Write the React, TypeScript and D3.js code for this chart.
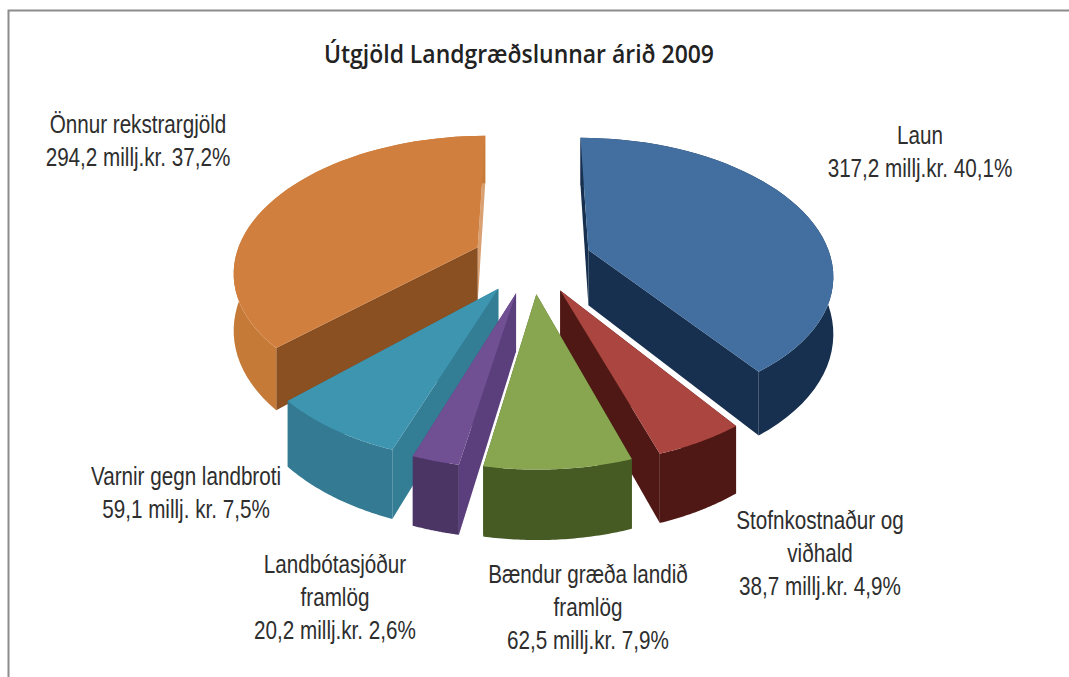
import React from 'react'
import * as d3 from 'd3'

const width = 1069
const height = 677

const categories = ['Laun', 'Stofnkostnaður', 'Bændur', 'Landbótasjóður', 'Varnir', 'Önnur']
const values = [317.2, 38.7, 62.5, 20.2, 59.1, 294.2]

const topColors = ['#426fa0', '#aa453f', '#88a64f', '#704f92', '#3d95b0', '#d17f3e']
const startFaceColors = ['#17304f', '#4f1815', '#465a24', '#5a3f7c', '#337d95', '#8a5022']
const endFaceColors = ['#17304f', '#4f1815', '#465a24', '#5a3f7c', '#337d95', '#d9a071']
const outerColors = ['#17304f', '#4f1815', '#465a24', '#4b3565', '#337a92', '#c67a38']

const labelLines = [
  ['Laun', '317,2 millj.kr. 40,1%'],
  ['Stofnkostnaður og', 'viðhald', '38,7 millj.kr. 4,9%'],
  ['Bændur græða landið', 'framlög', '62,5 millj.kr. 7,9%'],
  ['Landbótasjóður', 'framlög', '20,2 millj.kr. 2,6%'],
  ['Varnir gegn landbroti', '59,1 millj. kr. 7,5%'],
  ['Önnur rekstrargjöld', '294,2 millj.kr. 37,2%'],
]
const labelX = [920, 820, 588, 335, 186, 138]
const labelY = [144, 529, 583, 573, 485, 133]

// drawing order, back slices first
const paintOrder = [5, 0, 4, 1, 3, 2]

// projection of the tilted disc
const cx = 532
const cy = 260
const radius = 243
const explode = 60
const camera = 1475
const tilt = 0.55
const depth = 56

type P = [number, number]

const project = (x: number, z: number, drop: number): P => {
  const w = 1 - z / camera
  return [cx + x / w, cy + (tilt * z) / w + drop / w]
}

const line = d3.line<P>()

const arcs = d3.pie<number>().sort(null)(values)

const sliceShapes = (a: d3.PieArcDatum<number>) => {
  const mid = (a.startAngle + a.endAngle) / 2
  const ox = explode * Math.sin(mid)
  const oz = -explode * Math.cos(mid)
  const pt = (angle: number, r: number, drop: number) =>
    project(ox + r * Math.sin(angle), oz - r * Math.cos(angle), drop)

  const steps = d3.range(0, 49).map(i => a.startAngle + ((a.endAngle - a.startAngle) * i) / 48)
  const rim = steps.map(t => pt(t, radius, 0))
  const rimLow = steps.map(t => pt(t, radius, depth))

  return {
    top: line([pt(0, 0, 0), ...rim])! + 'Z',
    outer: line([...rim, ...rimLow.reverse()])! + 'Z',
    sideA: line([pt(0, 0, 0), pt(a.startAngle, radius, 0), pt(a.startAngle, radius, depth), pt(0, 0, depth)])! + 'Z',
    sideB: line([pt(0, 0, 0), pt(a.endAngle, radius, 0), pt(a.endAngle, radius, depth), pt(0, 0, depth)])! + 'Z',
  }
}

const App = () => {
  return (
    <svg width={width} height={height} style={{ position: 'absolute', left: 0, top: 0, background: '#fff' }}>
      <path d="M8.5 677V10.5H1069" fill="none" stroke="#8c8c8c" strokeWidth={2} />
      <text
        transform="translate(519,63) scale(0.9,1)"
        textAnchor="middle"
        fontFamily="'Open Sans', sans-serif"
        fontWeight={600}
        fontSize={25.5}
        fill="#222"
      >
        Útgjöld Landgræðslunnar árið 2009
      </text>
      {paintOrder.map(i => {
        const s = sliceShapes(arcs[i])
        return (
          <g key={categories[i]}>
            <path d={s.sideB} fill={endFaceColors[i]} />
            <path d={s.sideA} fill={startFaceColors[i]} />
            <path d={s.outer} fill={outerColors[i]} />
            <path d={s.top} fill={topColors[i]} />
          </g>
        )
      })}
      {labelLines.map((lines, i) =>
        lines.map((l, j) => (
          <text
            key={`${i}-${j}`}
            transform={`translate(${labelX[i]},${labelY[i] + j * 33}) scale(0.81,1)`}
            textAnchor="middle"
            fontFamily="'Liberation Sans', sans-serif"
            fontSize={25.5}
            fill="#2e2e2e"
          >
            {l}
          </text>
        )),
      )}
    </svg>
  )
}

export default App
